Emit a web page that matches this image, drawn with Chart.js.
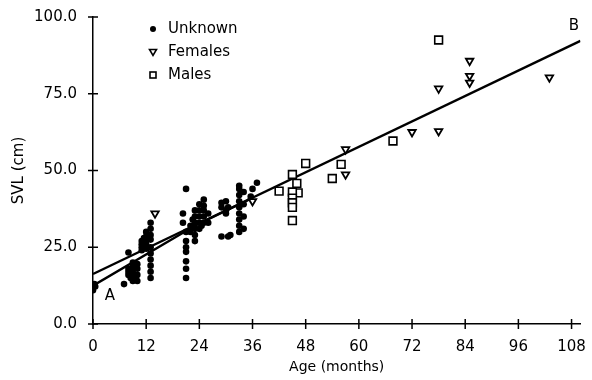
<!DOCTYPE html>
<html>
<head>
<meta charset="utf-8">
<script src="https://cdn.jsdelivr.net/npm/chart.js@4"></script>
<style>
  body { margin: 0; background: #fff; }
  #wrap { width: 592px; height: 380px; position: relative; }
</style>
</head>
<body>
<div id="wrap"><canvas id="svlChart"></canvas></div>
<script>
// data: age (months) vs SVL (cm)
const unknownPts = [
  [0, 11], [0, 12], [0, 12.5], [0.3, 13], [0.5, 12.2],
  [7, 13], [8, 23.3],
  [8, 16], [8, 17], [8, 18], [8.5, 15], [9, 14], [9, 16], [9, 17.5], [9, 19], [9, 20],
  [9.5, 15], [10, 14], [10, 16], [10, 18], [10, 19.5],
  [11, 24], [11, 25], [11, 26], [11, 27], [11.5, 28], [11.5, 25.5],
  [12, 24.5], [12, 26], [12, 27], [12, 28.5], [12, 30],
  [13, 33], [13, 31], [13, 29], [13, 27.5], [13, 25], [13, 23], [13, 21], [13, 19], [13, 17], [13, 15],
  [21, 44], [20.3, 36], [20.3, 33], [21, 30], [21, 27], [21, 25], [21, 23.5], [21, 20.4], [21, 18], [21, 15],
  [22, 30], [22, 32], [22.5, 34], [23, 27], [23, 29], [23, 31], [23, 33], [23, 35], [23, 37],
  [24, 31], [24, 33], [24, 35], [24, 37], [24, 39], [24.5, 32],
  [25, 33], [25, 35], [25, 37], [25, 38.5], [25, 40.5], [26, 33], [26, 36],
  [29, 38], [29, 39.5], [30, 37], [30, 36], [30, 40], [30.5, 38], [29, 28.5], [30.5, 28.5], [31, 29],
  [33, 30], [33, 32], [33, 34], [33, 36], [33, 38], [33, 40], [33, 42], [33, 44], [33, 45],
  [34, 31], [34, 35], [34, 39], [34, 43], [35.6, 41.5], [36, 44], [37, 46]
];
const femalePts = [
  [14, 36], [36, 40], [57, 56.9], [57, 48.7], [72, 62.5], [78, 62.8], [78, 76.7],
  [85, 85.7], [85, 80.8], [85, 78.6], [103, 80.3]
];
const malePts = [
  [42, 43.3], [45, 48.7], [46, 45.8], [46.3, 42.7], [45, 43], [45, 41], [45, 39.5], [45, 38],
  [45, 33.7], [48, 52.3], [54, 47.4], [56, 52], [67.7, 59.6], [78, 92.5]
];
// fitted lines (A: growth curve, B: linear)
const lineB = [[0, 16.3], [110, 92.2]];
const lineA = [[0, 12.5], [23, 32], [36, 41.1]];
const xTicks = [0, 12, 24, 36, 48, 60, 72, 84, 96, 108];
const yTicks = [0, 25, 50, 75, 100];
const legendItems = ['Unknown', 'Females', 'Males'];

const toXY = arr => arr.map(p => ({ x: p[0], y: p[1] }));
const fontFam = '"DejaVu Sans", sans-serif';

// ticks crossing the axis lines, legend and A/B labels
const crossTicks = {
  id: 'crossTicks',
  afterDraw(chart) {
    const ctx = chart.ctx;
    const xs = chart.scales.x, ys = chart.scales.y;
    ctx.save();
    ctx.strokeStyle = '#000';
    ctx.lineWidth = 1.5;
    ctx.beginPath();
    xTicks.forEach(v => {
      const px = xs.getPixelForValue(v);
      ctx.moveTo(px, ys.bottom - 5);
      ctx.lineTo(px, ys.bottom + 5);
    });
    yTicks.forEach(v => {
      const py = ys.getPixelForValue(v);
      ctx.moveTo(xs.left - 5, py);
      ctx.lineTo(xs.left + 5, py);
    });
    ctx.stroke();

    // legend
    ctx.fillStyle = '#000';
    ctx.font = '15px ' + fontFam;
    ctx.textBaseline = 'middle';
    const lx = 153, ly = [29, 52, 75];
    legendItems.forEach((t, i) => {
      ctx.fillText(t, lx + 15, ly[i]);
    });
    ctx.lineWidth = 1.6;
    ctx.beginPath();
    ctx.arc(lx, ly[0], 3, 0, Math.PI * 2);
    ctx.fill();
    ctx.beginPath();
    ctx.moveTo(lx - 3.5, ly[1] - 2.5);
    ctx.lineTo(lx + 3.5, ly[1] - 2.5);
    ctx.lineTo(lx, ly[1] + 3.5);
    ctx.closePath();
    ctx.stroke();
    ctx.strokeRect(lx - 3, ly[2] - 3, 6, 6);

    // line labels
    ctx.font = '15px ' + fontFam;
    ctx.textAlign = 'center';
    ctx.fillText('A', xs.getPixelForValue(3.8), ys.getPixelForValue(9));
    ctx.fillText('B', xs.getPixelForValue(108.5), ys.getPixelForValue(97));
    ctx.restore();
  }
};

new Chart(document.getElementById('svlChart'), {
  type: 'scatter',
  data: {
    datasets: [
      { label: 'Unknown', data: toXY(unknownPts), pointStyle: 'circle', pointRadius: 3.3,
        backgroundColor: '#000', borderColor: '#000', borderWidth: 0 },
      { label: 'Females', data: toXY(femalePts), pointStyle: 'triangle', rotation: 180, pointRadius: 4.3,
        backgroundColor: '#fff', borderColor: '#000', borderWidth: 1.8 },
      { label: 'Males', data: toXY(malePts), pointStyle: 'rect', pointRadius: 5.5,
        backgroundColor: '#fff', borderColor: '#000', borderWidth: 1.6 },
      { label: 'B', data: toXY(lineB), showLine: true, pointRadius: 0, borderColor: '#000', borderWidth: 2.4 },
      { label: 'A', data: toXY(lineA), showLine: true, pointRadius: 0, borderColor: '#000', borderWidth: 2.4 }
    ]
  },
  options: {
    responsive: true,
    maintainAspectRatio: false,
    animation: false,
    layout: { padding: { top: 14, right: 4, left: 0, bottom: 0 } },
    plugins: { legend: { display: false }, tooltip: { enabled: false } },
    scales: {
      x: {
        min: 0, max: 110,
        afterBuildTicks: s => { s.ticks = xTicks.map(v => ({ value: v })); },
        afterFit: s => { s.height = 56; },
        grid: { display: false },
        border: { display: true, color: '#000', width: 1.5 },
        ticks: { color: '#000', font: { family: fontFam, size: 15 }, padding: 6, maxRotation: 0 },
        title: { display: true, text: 'Age (months)', color: '#000', font: { family: fontFam, size: 14 }, padding: { top: 2 } }
      },
      y: {
        min: 0, max: 100,
        afterBuildTicks: s => { s.ticks = yTicks.map(v => ({ value: v })); },
        afterFit: s => { s.width = 93; },
        grid: { display: false },
        border: { display: true, color: '#000', width: 1.5 },
        ticks: { color: '#000', font: { family: fontFam, size: 15 }, padding: 8,
          callback: v => v.toFixed(1) },
        title: { display: true, text: 'SVL (cm)', color: '#000', font: { family: fontFam, size: 15 }, padding: { top: 10, bottom: 2 } }
      }
    }
  },
  plugins: [crossTicks]
});
</script>
</body>
</html>
